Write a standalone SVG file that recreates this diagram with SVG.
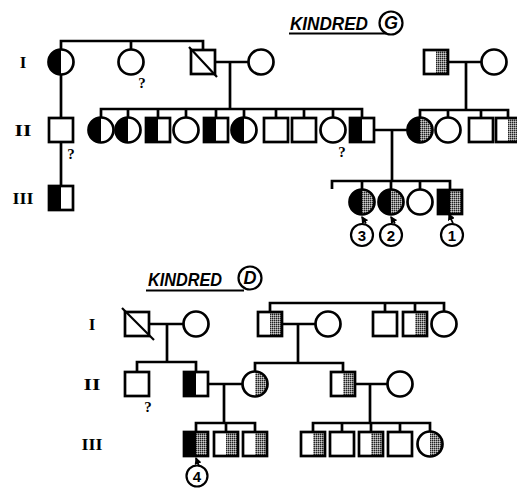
<svg xmlns="http://www.w3.org/2000/svg" width="517" height="488" viewBox="0 0 517 488">
<defs>
<pattern id="stip" width="2" height="2" patternUnits="userSpaceOnUse">
<rect width="2" height="2" fill="#888"/>
<rect width="1" height="1" fill="#222"/>
<rect x="1" y="1" width="1" height="1" fill="#ccc"/>
</pattern>
<marker id="ar" viewBox="0 0 6 6" refX="5" refY="3" markerWidth="4" markerHeight="4" orient="auto">
<path d="M0,0 L6,3 L0,6 Z" fill="#000"/>
</marker>
<style>
.o{fill:none;stroke:#000;stroke-width:2.7}
.b{fill:#000}
.p{fill:url(#stip)}
.ln{fill:none;stroke:#000;stroke-width:2.7}
.gen{font-family:"Liberation Serif",serif;font-weight:bold;font-size:17px;fill:#000}
.q{font-family:"Liberation Serif",serif;font-weight:bold;font-size:15px;fill:#000}
.num{font-family:"Liberation Sans",sans-serif;font-weight:bold;font-size:15px;fill:#000}
.ttl{font-family:"Liberation Sans",sans-serif;font-weight:bold;font-style:italic;font-size:18px;fill:#000}
.ar{fill:none;stroke:#000;stroke-width:1.8}
</style>
</defs>
<rect width="517" height="488" fill="#fff"/>

<!-- Titles and generation labels -->
<g id="titleG">
<text class="ttl" x="290" y="30" textLength="78" lengthAdjust="spacingAndGlyphs">KINDRED</text>
<line x1="289" y1="33.5" x2="386" y2="33.5" stroke="#000" stroke-width="2"/>
<circle cx="391" cy="23" r="11.5" class="o" style="stroke-width:2.2"/>
<text class="ttl" x="391" y="29" text-anchor="middle" font-size="16">G</text>
</g>
<g id="titleD">
<text class="ttl" x="148" y="286" textLength="74" lengthAdjust="spacingAndGlyphs">KINDRED</text>
<line x1="146" y1="290.5" x2="244" y2="290.5" stroke="#000" stroke-width="2"/>
<circle cx="250" cy="278" r="11.5" class="o" style="stroke-width:2.2"/>
<text class="ttl" x="250" y="284" text-anchor="middle" font-size="16">D</text>
</g>
<g id="genlabels">
<text class="gen" x="23" y="68" text-anchor="middle">I</text>
<text class="gen" x="23" y="136" text-anchor="middle" textLength="17" lengthAdjust="spacingAndGlyphs">II</text>
<text class="gen" x="23" y="204" text-anchor="middle" textLength="21" lengthAdjust="spacingAndGlyphs">III</text>
<text class="gen" x="92" y="330" text-anchor="middle">I</text>
<text class="gen" x="92" y="390" text-anchor="middle" textLength="17" lengthAdjust="spacingAndGlyphs">II</text>
<text class="gen" x="92" y="450" text-anchor="middle" textLength="21" lengthAdjust="spacingAndGlyphs">III</text>
</g>

<!-- Connectors -->
<g id="connectors" class="ln">
<!-- Kindred G -->
<path d="M61,49.5 V41 H203 V50"/>
<path d="M131,41 V49.5"/>
<path d="M61,74.5 V118"/>
<path d="M215,62 H248.5"/>
<path d="M230,62 V109"/>
<path d="M101,117.5 V109 H362 V118"/>
<path d="M128,109 V117.5 M158,109 V118 M186,109 V117.5 M216,109 V118 M244,109 V117.5 M276,109 V118 M304,109 V118 M333,109 V117.5"/>
<path d="M374,130 H407.5"/>
<path d="M392,130 V181"/>
<path d="M448,62 H481.5"/>
<path d="M466,62 V110"/>
<path d="M420,117.5 V110 H508 V118"/>
<path d="M448,110 V117.5 M481,110 V118"/>
<path d="M61,142 V186"/>
<path d="M332,189 V181 H450 V190"/>
<path d="M362,181 V189.5 M391,181 V189.5 M420,181 V189.5"/>
<!-- Kindred D -->
<path d="M149,324 H183.5"/>
<path d="M167,324 V362"/>
<path d="M137,372 V362 H196 V372"/>
<path d="M270,312 V303 H444 V311.5"/>
<path d="M385,303 V312 M415,303 V312"/>
<path d="M282,324 H315.5"/>
<path d="M298,324 V363"/>
<path d="M255,371.5 V363 H343 V372"/>
<path d="M208,384 H242.5"/>
<path d="M224,384 V423"/>
<path d="M355,384 H387.5"/>
<path d="M370,384 V423"/>
<path d="M196,432 V423 H255 V432"/>
<path d="M226,423 V432"/>
<path d="M313,432 V423 H430 V431.5"/>
<path d="M342,423 V432 M371,423 V432 M400,423 V432"/>
<!-- proband arrows -->
<path class="ar" d="M366,223.5 L362,217" marker-end="url(#ar)"/>
<path class="ar" d="M395,223.5 L391,217" marker-end="url(#ar)"/>
<path class="ar" d="M453,223.5 L449,214" marker-end="url(#ar)"/>
<path class="ar" d="M199,466 L196,458" marker-end="url(#ar)"/>
</g>

<!-- Kindred G, generation I -->
<g id="G-I-1"><path class="b" d="M61,49.5 A12.5,12.5 0 0 0 61,74.5 Z"/><circle class="o" cx="61" cy="62" r="12.5"/></g>
<g id="G-I-2"><circle class="o" cx="131" cy="62" r="12.5"/><text class="q" x="142" y="88" text-anchor="middle">?</text></g>
<g id="G-I-3"><rect class="o" x="191" y="50" width="24" height="24"/><line x1="189" y1="47" x2="217" y2="77" stroke="#000" stroke-width="2.2"/></g>
<g id="G-I-4"><circle class="o" cx="261" cy="62" r="12.5"/></g>
<g id="G-I-5"><rect class="p" x="436" y="50" width="12" height="24"/><rect class="o" x="424" y="50" width="24" height="24"/></g>
<g id="G-I-6"><circle class="o" cx="494" cy="62" r="12.5"/></g>

<!-- Kindred G, generation II -->
<g id="G-II-1"><rect class="o" x="49" y="118" width="24" height="24"/><text class="q" x="71" y="159" text-anchor="middle">?</text></g>
<g id="G-II-2"><path class="b" d="M101,117.5 A12.5,12.5 0 0 0 101,142.5 Z"/><circle class="o" cx="101" cy="130" r="12.5"/></g>
<g id="G-II-3"><path class="b" d="M128,117.5 A12.5,12.5 0 0 0 128,142.5 Z"/><circle class="o" cx="128" cy="130" r="12.5"/></g>
<g id="G-II-4"><rect class="b" x="146" y="118" width="12" height="24"/><rect class="o" x="146" y="118" width="24" height="24"/></g>
<g id="G-II-5"><circle class="o" cx="186" cy="130" r="12.5"/></g>
<g id="G-II-6"><rect class="b" x="204" y="118" width="12" height="24"/><rect class="o" x="204" y="118" width="24" height="24"/></g>
<g id="G-II-7"><path class="b" d="M244,117.5 A12.5,12.5 0 0 0 244,142.5 Z"/><circle class="o" cx="244" cy="130" r="12.5"/></g>
<g id="G-II-8"><rect class="o" x="264" y="118" width="24" height="24"/></g>
<g id="G-II-9"><rect class="o" x="292" y="118" width="24" height="24"/></g>
<g id="G-II-10"><circle class="o" cx="333" cy="130" r="12.5"/><text class="q" x="342" y="157" text-anchor="middle">?</text></g>
<g id="G-II-11"><rect class="b" x="350" y="118" width="12" height="24"/><rect class="o" x="350" y="118" width="24" height="24"/></g>
<g id="G-II-12"><path class="b" d="M420,117.5 A12.5,12.5 0 0 0 420,142.5 Z"/><path class="p" d="M420,117.5 A12.5,12.5 0 0 1 420,142.5 Z"/><circle class="o" cx="420" cy="130" r="12.5"/></g>
<g id="G-II-13"><circle class="o" cx="448" cy="130" r="12.5"/></g>
<g id="G-II-14"><rect class="o" x="469" y="118" width="24" height="24"/></g>
<g id="G-II-15"><rect class="p" x="508" y="118" width="12" height="24"/><rect class="o" x="496" y="118" width="24" height="24"/></g>

<!-- Kindred G, generation III -->
<g id="G-III-1"><rect class="b" x="49" y="186" width="12" height="24"/><rect class="o" x="49" y="186" width="24" height="24"/></g>
<g id="G-III-2"><path class="b" d="M362,189.5 A12.5,12.5 0 0 0 362,214.5 Z"/><path class="p" d="M362,189.5 A12.5,12.5 0 0 1 362,214.5 Z"/><circle class="o" cx="362" cy="202" r="12.5"/></g>
<g id="G-III-3"><path class="b" d="M391,189.5 A12.5,12.5 0 0 0 391,214.5 Z"/><path class="p" d="M391,189.5 A12.5,12.5 0 0 1 391,214.5 Z"/><circle class="o" cx="391" cy="202" r="12.5"/></g>
<g id="G-III-4"><circle class="o" cx="420" cy="202" r="12.5"/></g>
<g id="G-III-5"><rect class="b" x="438" y="190" width="12" height="24"/><rect class="p" x="450" y="190" width="12" height="24"/><rect class="o" x="438" y="190" width="24" height="24"/></g>
<g id="P3"><circle class="o" cx="362" cy="235" r="11" style="stroke-width:2.2"/><text class="num" x="362" y="240.5" text-anchor="middle">3</text></g>
<g id="P2"><circle class="o" cx="391" cy="235" r="11" style="stroke-width:2.2"/><text class="num" x="391" y="240.5" text-anchor="middle">2</text></g>
<g id="P1"><circle class="o" cx="452" cy="235" r="11" style="stroke-width:2.2"/><text class="num" x="452" y="240.5" text-anchor="middle">1</text></g>

<!-- Kindred D, generation I -->
<g id="D-I-1"><rect class="o" x="125" y="312" width="24" height="24"/><line x1="122" y1="308" x2="154" y2="340" stroke="#000" stroke-width="2.2"/></g>
<g id="D-I-2"><circle class="o" cx="196" cy="324" r="12.5"/></g>
<g id="D-I-3"><rect class="p" x="270" y="312" width="12" height="24"/><rect class="o" x="258" y="312" width="24" height="24"/></g>
<g id="D-I-4"><circle class="o" cx="328" cy="324" r="12.5"/></g>
<g id="D-I-5"><rect class="o" x="373" y="312" width="24" height="24"/></g>
<g id="D-I-6"><rect class="p" x="415" y="312" width="12" height="24"/><rect class="o" x="403" y="312" width="24" height="24"/></g>
<g id="D-I-7"><circle class="o" cx="444" cy="324" r="12.5"/></g>

<!-- Kindred D, generation II -->
<g id="D-II-1"><rect class="o" x="125" y="372" width="24" height="24"/><text class="q" x="148" y="412" text-anchor="middle">?</text></g>
<g id="D-II-2"><rect class="b" x="184" y="372" width="12" height="24"/><rect class="o" x="184" y="372" width="24" height="24"/></g>
<g id="D-II-3"><path class="p" d="M255,371.5 A12.5,12.5 0 0 1 255,396.5 Z"/><circle class="o" cx="255" cy="384" r="12.5"/></g>
<g id="D-II-4"><rect class="p" x="343" y="372" width="12" height="24"/><rect class="o" x="331" y="372" width="24" height="24"/></g>
<g id="D-II-5"><circle class="o" cx="400" cy="384" r="12.5"/></g>

<!-- Kindred D, generation III -->
<g id="D-III-1"><rect class="b" x="184" y="432" width="12" height="24"/><rect class="p" x="196" y="432" width="12" height="24"/><rect class="o" x="184" y="432" width="24" height="24"/></g>
<g id="D-III-2"><rect class="p" x="226" y="432" width="12" height="24"/><rect class="o" x="214" y="432" width="24" height="24"/></g>
<g id="D-III-3"><rect class="p" x="255" y="432" width="12" height="24"/><rect class="o" x="243" y="432" width="24" height="24"/></g>
<g id="D-III-4"><rect class="p" x="313" y="432" width="12" height="24"/><rect class="o" x="301" y="432" width="24" height="24"/></g>
<g id="D-III-5"><rect class="o" x="330" y="432" width="24" height="24"/></g>
<g id="D-III-6"><rect class="p" x="371" y="432" width="12" height="24"/><rect class="o" x="359" y="432" width="24" height="24"/></g>
<g id="D-III-7"><rect class="o" x="388" y="432" width="24" height="24"/></g>
<g id="D-III-8"><path class="p" d="M430,431.5 A12.5,12.5 0 0 1 430,456.5 Z"/><circle class="o" cx="430" cy="444" r="12.5"/></g>
<g id="P4"><circle class="o" cx="197" cy="476" r="10.5" style="stroke-width:2.2"/><text class="num" x="197" y="481.5" text-anchor="middle">4</text></g>
</svg>
